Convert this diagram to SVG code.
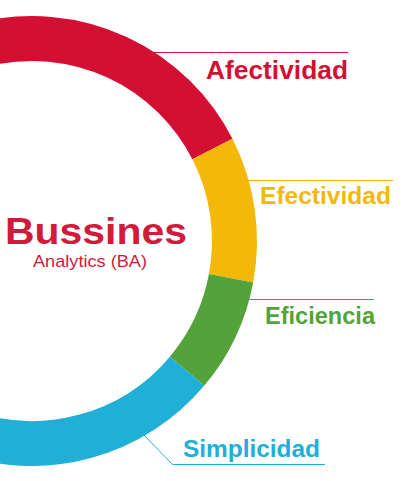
<svg xmlns="http://www.w3.org/2000/svg" width="420" height="481" viewBox="0 0 420 481">
<style>
.seg{fill:none;stroke-width:45;stroke-linecap:butt}
.lead{fill:none;stroke-width:1}
.lbl{font-family:"Liberation Sans",Arial,sans-serif;font-weight:bold}
</style>
<rect width="420" height="481" fill="#ffffff"/>
<g id="connectors">
<line class="lead" x1="150" y1="52.5" x2="348" y2="52.5" stroke="#D31034"/>
<line class="lead" x1="245" y1="180.5" x2="393" y2="180.5" stroke="#F4B80A"/>
<line class="lead" x1="245" y1="299.5" x2="374" y2="299.5" stroke="#54A23A"/>
<polyline class="lead" points="141,432 172.5,464.5 325,464.5" stroke="#20B0D7"/>
</g>
<g id="ring">
<path id="seg-afectividad" class="seg" stroke="#D31034" d="M -170.5 241 A 202.5 202.5 0 0 1 212.43 149.07"/>
<path id="seg-efectividad" class="seg" stroke="#F4B80A" d="M 212.43 149.07 A 202.5 202.5 0 0 1 231.05 278.25"/>
<path id="seg-eficiencia" class="seg" stroke="#54A23A" d="M 231.05 278.25 A 202.5 202.5 0 0 1 187.12 371.16"/>
<path id="seg-simplicidad" class="seg" stroke="#20B0D7" d="M 187.12 371.16 A 202.5 202.5 0 0 1 -170.5 241"/>
</g>
<g id="center">
<text class="lbl" x="5" y="243.5" font-size="37" fill="#D21A3A" textLength="182" lengthAdjust="spacingAndGlyphs">Bussines</text>
<text x="33" y="267" font-family="'Liberation Sans',Arial,sans-serif" font-size="17" fill="#D21A3A" textLength="114" lengthAdjust="spacingAndGlyphs">Analytics (BA)</text>
</g>
<g id="afectividad">
<text class="lbl" x="206" y="79" font-size="26" fill="#D31034" textLength="142" lengthAdjust="spacingAndGlyphs">Afectividad</text>
</g>
<g id="efectividad">
<text class="lbl" x="260" y="203.5" font-size="23.5" fill="#F4B80A" textLength="131" lengthAdjust="spacingAndGlyphs">Efectividad</text>
</g>
<g id="eficiencia">
<text class="lbl" x="265" y="323.5" font-size="23.5" fill="#54A23A" textLength="110" lengthAdjust="spacingAndGlyphs">Eficiencia</text>
</g>
<g id="simplicidad">
<text class="lbl" x="183" y="457" font-size="24" fill="#20B0D7" textLength="137" lengthAdjust="spacingAndGlyphs">Simplicidad</text>
</g>
</svg>
